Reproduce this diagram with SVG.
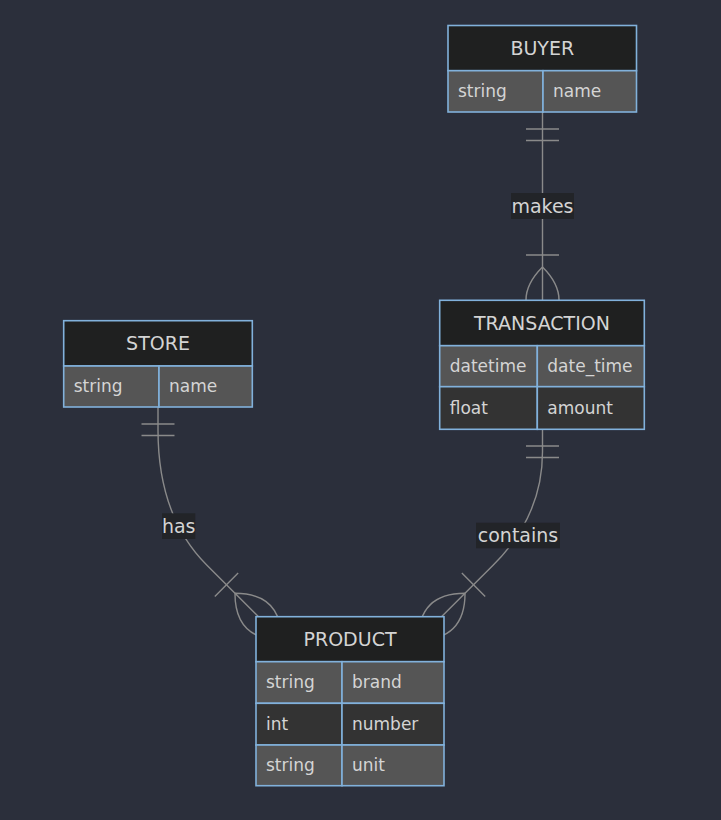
<svg xmlns="http://www.w3.org/2000/svg" width="721" height="820" viewBox="0 0 721 820">
<style>
.bg{fill:#2b2f3b}
.hdr{fill:#1f2020;stroke:#81b1db;stroke-width:1.6}
.odd{fill:#555555;stroke:#81b1db;stroke-width:1.6}
.even{fill:#333333;stroke:#81b1db;stroke-width:1.6}
.title{font-family:"DejaVu Sans",sans-serif;font-size:19px;fill:#d4d4d4;text-anchor:middle}
.attr{font-family:"DejaVu Sans",sans-serif;font-size:17px;fill:#d4d4d4}
.edge{fill:none;stroke:#8a8a8a;stroke-width:1.4}
.lblbg{fill:#222428}
.lbl{font-family:"DejaVu Sans",sans-serif;font-size:19px;fill:#d4d4d4;text-anchor:middle}
</style>
<defs>
<g id="onlyone"><path class="edge" d="M17,-16.5 V16.5 M28.5,-16.5 V16.5"/></g>
<g id="oneormore"><path class="edge" d="M-33,0 Q0,-33 33,0 Q0,33 -33,0 M-45,-16.5 V16.5"/></g>
</defs>
<rect class="bg" x="0" y="0" width="721" height="820"/>
<g id="connectors">
<path class="edge" d="M542.5,112 V300"/>
<use href="#onlyone" transform="translate(542.5,112) rotate(90)"/>
<use href="#oneormore" transform="translate(542.5,300) rotate(90)"/>
<path class="edge" d="M158,407 V430 Q158,516.3 206.7,565 L258.3,616.6"/>
<use href="#onlyone" transform="translate(158,407) rotate(90)"/>
<use href="#oneormore" transform="translate(258.3,616.6) rotate(45)"/>
<path class="edge" d="M542.5,429 V452 Q542.5,515.8 493.3,565 L441.7,616.6"/>
<use href="#onlyone" transform="translate(542.5,429) rotate(90)"/>
<use href="#oneormore" transform="translate(441.7,616.6) rotate(135)"/>
<rect class="lblbg" x="511" y="193" width="63" height="26"/>
<text class="lbl" x="542.5" y="212.5">makes</text>
<rect class="lblbg" x="162" y="513.3" width="33.3" height="25.7"/>
<text class="lbl" x="178.7" y="532.5">has</text>
<rect class="lblbg" x="476" y="522.7" width="84" height="25.6"/>
<text class="lbl" x="518" y="542">contains</text>
</g>
<g id="BUYER">
<rect class="hdr" x="448" y="25.5" width="188.5" height="45.2"/>
<text class="title" x="542.3" y="55">BUYER</text>
<rect class="odd" x="448" y="70.7" width="95" height="41.3"/>
<rect class="odd" x="543" y="70.7" width="93.5" height="41.3"/>
<text class="attr" x="458" y="97">string</text>
<text class="attr" x="553" y="97">name</text>
</g>
<g id="TRANSACTION">
<rect class="hdr" x="439.7" y="300.3" width="204.6" height="45.4"/>
<text class="title" x="542" y="329.8">TRANSACTION</text>
<rect class="odd" x="439.7" y="345.7" width="97.6" height="41"/>
<rect class="odd" x="537.3" y="345.7" width="107" height="41"/>
<text class="attr" x="449.7" y="371.7">datetime</text>
<text class="attr" x="547.3" y="371.7">date_time</text>
<rect class="even" x="439.7" y="386.7" width="97.6" height="42.6"/>
<rect class="even" x="537.3" y="386.7" width="107" height="42.6"/>
<text class="attr" x="449.7" y="413.5">float</text>
<text class="attr" x="547.3" y="413.5">amount</text>
</g>
<g id="STORE">
<rect class="hdr" x="63.7" y="320.7" width="188.6" height="45.3"/>
<text class="title" x="158" y="350.3">STORE</text>
<rect class="odd" x="63.7" y="366" width="95.3" height="41"/>
<rect class="odd" x="159" y="366" width="93.3" height="41"/>
<text class="attr" x="73.7" y="392">string</text>
<text class="attr" x="169" y="392">name</text>
</g>
<g id="PRODUCT">
<rect class="hdr" x="256" y="616.7" width="188" height="45"/>
<text class="title" x="350" y="646">PRODUCT</text>
<rect class="odd" x="256" y="661.7" width="86" height="41.6"/>
<rect class="odd" x="342" y="661.7" width="102" height="41.6"/>
<text class="attr" x="266" y="688">string</text>
<text class="attr" x="352" y="688">brand</text>
<rect class="even" x="256" y="703.3" width="86" height="41.7"/>
<rect class="even" x="342" y="703.3" width="102" height="41.7"/>
<text class="attr" x="266" y="729.6">int</text>
<text class="attr" x="352" y="729.6">number</text>
<rect class="odd" x="256" y="745" width="86" height="40.7"/>
<rect class="odd" x="342" y="745" width="102" height="40.7"/>
<text class="attr" x="266" y="771">string</text>
<text class="attr" x="352" y="771">unit</text>
</g>
</svg>
